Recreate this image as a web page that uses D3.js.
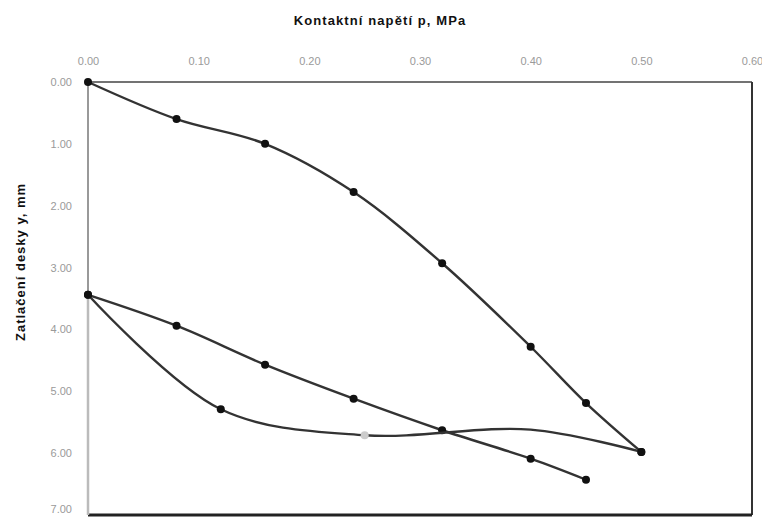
<!DOCTYPE html>
<html>
<head>
<meta charset="utf-8">
<script src="https://cdn.jsdelivr.net/npm/d3@7"></script>
<style>
  body { margin: 0; background: #fff; }
  .tick text { font-family: "Liberation Sans", Arial, sans-serif; font-size: 11px; fill: #9a9a9a; }
  .title { font-family: "Liberation Sans", Arial, sans-serif; font-weight: bold; fill: #111; }
</style>
</head>
<body>
<div id="chart"></div>
<script>
// loading branch
var loadP = [0, 0.08, 0.16, 0.24, 0.32, 0.40, 0.45, 0.50];
var loadY = [0, 0.60, 1.00, 1.78, 2.93, 4.28, 5.19, 5.98];
// unloading branch (straight one)
var unloadP = [0, 0.08, 0.16, 0.24, 0.32, 0.40, 0.45];
var unloadY = [3.44, 3.94, 4.57, 5.12, 5.63, 6.09, 6.43];
// reloading branch, marker shown: 1 dark, 0.5 faint, 0 none
var reloadP = [0, 0.12, 0.25, 0.40, 0.50];
var reloadY = [3.44, 5.29, 5.71, 5.62, 5.98];
var reloadMark = [1, 1, 0.5, 0, 1];

var xTicks = [0, 0.1, 0.2, 0.3, 0.4, 0.5, 0.6];
var yTicks = [0, 1, 2, 3, 4, 5, 6, 7];

var margin = {top: 82, right: 10, bottom: 3, left: 88},
    width = 762 - margin.left - margin.right,
    height = 518 - margin.top - margin.bottom;

var svg = d3.select("#chart").append("svg")
    .attr("width", 762)
    .attr("height", 518);

var g = svg.append("g")
    .attr("transform", "translate(" + margin.left + "," + margin.top + ")");

var x = d3.scaleLinear().domain([0, 0.6]).range([0, width]);
var y = d3.scaleLinear().domain([0, 7]).range([0, height]);

// axes (labels only, frame drawn below)
var xAxis = g.append("g")
    .call(d3.axisTop(x).tickValues(xTicks).tickSize(0).tickPadding(17).tickFormat(d3.format(".2f")));
xAxis.select(".domain").remove();

var yAxis = g.append("g")
    .call(d3.axisLeft(y).tickValues(yTicks).tickSize(0).tickPadding(16).tickFormat(d3.format(".2f")));
yAxis.select(".domain").remove();
// last label sits at the bottom edge, lift it a little so it stays visible
yAxis.selectAll(".tick text").filter(function(d) { return d === 7; })
    .attr("dy", "-0.2em");

// frame
g.append("line").attr("x1", 0).attr("x2", width).attr("y1", 0).attr("y2", 0)
    .attr("stroke", "#444").attr("stroke-width", 1.5);
g.append("line").attr("x1", width).attr("x2", width).attr("y1", 0).attr("y2", height)
    .attr("stroke", "#333").attr("stroke-width", 2);
g.append("line").attr("x1", 0).attr("x2", width).attr("y1", height).attr("y2", height)
    .attr("stroke", "#222").attr("stroke-width", 3);
g.append("line").attr("x1", 0).attr("x2", 0).attr("y1", 0).attr("y2", y(unloadY[0]))
    .attr("stroke", "#555").attr("stroke-width", 1.2);
g.append("line").attr("x1", 0).attr("x2", 0).attr("y1", y(unloadY[0])).attr("y2", height)
    .attr("stroke", "#bbb").attr("stroke-width", 2.5);

// titles
svg.append("text")
    .attr("class", "title")
    .attr("x", 380)
    .attr("y", 25)
    .attr("text-anchor", "middle")
    .style("font-size", "13px")
    .style("letter-spacing", "1.1px")
    .text("Kontaktní napětí p, MPa");

svg.append("text")
    .attr("class", "title")
    .attr("transform", "translate(25,262) rotate(-90)")
    .attr("text-anchor", "middle")
    .style("font-size", "13px")
    .style("letter-spacing", "1px")
    .text("Zatlačení desky y, mm");

var line = d3.line()
    .x(function(d) { return x(d[0]); })
    .y(function(d) { return y(d[1]); })
    .curve(d3.curveCatmullRom);

var series = [
    {p: loadP, v: loadY, m: loadP.map(function() { return 1; })},
    {p: unloadP, v: unloadY, m: unloadP.map(function() { return 1; })},
    {p: reloadP, v: reloadY, m: reloadMark}
];

series.forEach(function(s) {
    var pts = s.p.map(function(p, i) { return [p, s.v[i], s.m[i]]; });

    g.append("path")
        .datum(pts)
        .attr("fill", "none")
        .attr("stroke", "#333")
        .attr("stroke-width", 2.4)
        .attr("d", line);

    g.selectAll(null)
        .data(pts.filter(function(d) { return d[2] > 0; }))
        .enter().append("circle")
        .attr("cx", function(d) { return x(d[0]); })
        .attr("cy", function(d) { return y(d[1]); })
        .attr("r", 4)
        .attr("fill", function(d) { return d[2] < 1 ? "#ccc" : "#111"; });
});
</script>
</body>
</html>
